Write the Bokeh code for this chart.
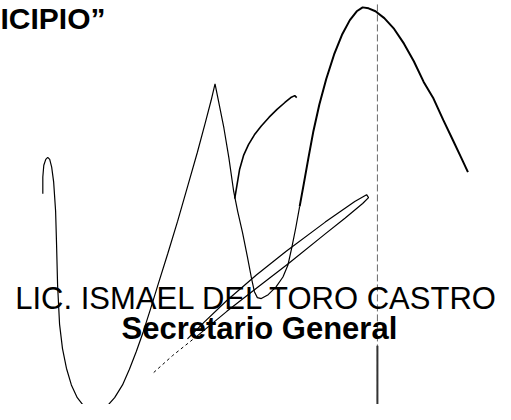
from bokeh.plotting import figure
from bokeh.models import Range1d
from bokeh.core.properties import value
from bokeh.embed import file_html
from bokeh.resources import INLINE

# ---- text lines (image coordinates, y grows downward) ----
heading_text = ["ICIPIO\u201d"]
heading_x = [0]
heading_y = [18]

name_text = ["LIC. ISMAEL DEL TORO CASTRO"]
name_x = [15]
name_y = [304]

title_text = ["Secretario General"]
title_x = [123]
title_y = [335]

# ---- signature strokes ----
loop_x = [43, 43, 44, 46, 48, 50, 52, 54, 56, 57, 58, 60, 63, 67, 72, 78, 85, 92, 100, 108, 116,
          124, 131, 138, 145, 152, 160, 170, 180, 190, 200, 208, 214, 218,
          222, 227, 232, 237, 241, 246, 251, 255, 258, 261, 265, 272, 280, 287, 292, 296, 300, 304]
loop_y = [197, 180, 168, 162, 160, 162, 170, 185, 215, 250, 290, 330, 355, 375, 392, 405, 414, 418, 418, 414, 405,
          392, 376, 358, 338, 316, 290, 258, 225, 190, 155, 125, 102, 85,
          105, 130, 160, 195, 215, 237, 262, 283, 297, 303, 304, 300, 292, 282, 270, 252, 232, 210]

arch_x = [304, 308, 313, 318, 324, 331, 339, 347, 355, 362, 368, 374, 381, 390, 400, 410, 420, 430, 440, 450, 460, 468, 475]
arch_y = [210, 188, 160, 133, 106, 80, 55, 35, 20, 11, 7, 8, 11, 18, 29, 44, 62, 83, 100, 122, 143, 160, 175]

hook_x = [238, 240, 243, 247, 252, 258, 265, 273, 281, 289, 295, 299, 301]
hook_y = [202, 190, 172, 158, 147, 137, 128, 119, 111, 104, 99, 97, 99]

flourish_x = [190, 207, 230, 260, 290, 330, 360, 372, 374, 368, 350, 330, 293, 262, 230, 200]
flourish_y = [345, 328, 306, 280, 256, 226, 205, 198, 201, 207, 222, 238, 268, 292, 317, 342]

tail_x = [200, 175, 155]
tail_y = [342, 362, 380]

# scanner crease line
crease_x = [383, 383]
crease_y = [4, 420]
crease_dark_x = [383, 383]
crease_dark_y = [352, 420]

p = figure(width=495, height=404,
           x_range=Range1d(0, 503), y_range=Range1d(412, 0),
           output_backend="svg", toolbar_location=None,
           min_border=0, min_border_left=0, min_border_right=0,
           min_border_top=0, min_border_bottom=0)
p.axis.visible = False
p.grid.visible = False
p.outline_line_color = None
p.background_fill_color = "white"
p.border_fill_color = "white"

# crease
p.line(crease_x, crease_y, line_color="#6a6a6a", line_width=1, line_dash="7 3")
p.line(crease_dark_x, crease_dark_y, line_color="#333333", line_width=2)

# signature
p.line(loop_x, loop_y, line_color="black", line_width=1.2)
p.line(arch_x, arch_y, line_color="black", line_width=2)
p.line(hook_x, hook_y, line_color="black", line_width=1.6)
p.line(flourish_x, flourish_y, line_color="black", line_width=1.2)
p.line(tail_x, tail_y, line_color="black", line_width=1, line_dash="3 3")

font = value("Liberation Sans")
p.text(x=heading_x, y=heading_y, text=heading_text, text_font=font, text_font_size="30px",
       text_font_style="bold", text_baseline="alphabetic", text_align="left", text_color="black")
p.text(x=name_x, y=name_y, text=name_text, text_font=font, text_font_size="31px",
       text_font_style="normal", text_baseline="alphabetic", text_align="left", text_color="black")
p.text(x=title_x, y=title_y, text=title_text, text_font=font, text_font_size="31px",
       text_font_style="bold", text_baseline="alphabetic", text_align="left", text_color="black")

open("out.html", "w").write(file_html(p, INLINE))
